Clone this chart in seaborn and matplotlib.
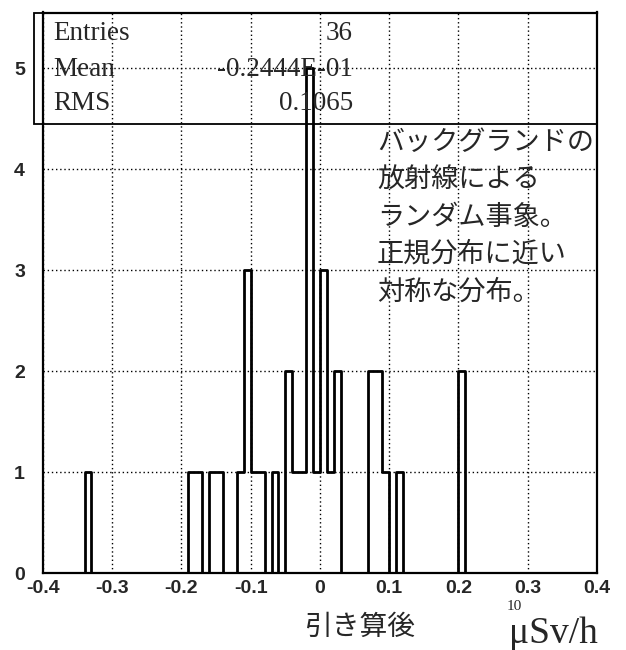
import numpy as np
import pandas as pd
import matplotlib
matplotlib.use("Agg")
import matplotlib.pyplot as plt
from matplotlib.patches import Rectangle
from matplotlib.ticker import MultipleLocator
import seaborn as sns

# bin centres (uSv/h, after background subtraction) and counts per 0.01 bin
bin_centers = [-0.335, -0.185, -0.175, -0.155, -0.145, -0.115, -0.105, -0.095,
               -0.085, -0.065, -0.045, -0.035, -0.025, -0.015, -0.005, 0.005,
               0.015, 0.025, 0.075, 0.085, 0.095, 0.115, 0.205]
counts = [1, 1, 1, 1, 1, 1, 3, 1,
          1, 1, 2, 1, 1, 5, 1, 3,
          1, 2, 2, 2, 1, 1, 2]

x_ticks = [-0.4, -0.3, -0.2, -0.1, 0.0, 0.1, 0.2, 0.3, 0.4]
x_tick_labels = ["-0.4", "-0.3", "-0.2", "-0.1", "0", "0.1", "0.2", "0.3", "0.4"]
y_ticks = [0, 1, 2, 3, 4, 5]

stat_names = ["Entries", "Mean", "RMS"]
stat_values = ["36", "-0.2444E-01", "0.1065"]

note_lines = ["バックグランドの", "放射線による", "ランダム事象。", "正規分布に近い", "対称な分布。"]
xlabel_jp = "引き算後"
xlabel_unit = "μSv/h"

df = pd.DataFrame({"value": bin_centers, "n": counts})

sns.set_style("white")
plt.rcParams['font.family'] = ['Liberation Sans', 'DejaVu Sans']
jp_font = ['Noto Sans CJK JP', 'DejaVu Sans']
serif_font = ['Liberation Serif', 'DejaVu Serif']

W, H = 626, 650
fig = plt.figure(figsize=(W / 100, H / 100), dpi=100)
ax = fig.add_axes([43 / W, 1 - 573 / H, (597 - 43) / W, (573 - 12.5) / H])

sns.histplot(data=df, x="value", weights="n", binwidth=0.01, binrange=(-0.4, 0.4),
             element="step", fill=False, color="black", linewidth=2, ax=ax)

ax.set_xlim(-0.4, 0.4)
ax.set_ylim(0, 5.55)
ax.set_xticks(x_ticks)
ax.set_xticklabels(x_tick_labels)
ax.set_yticks(y_ticks)
ax.xaxis.set_minor_locator(MultipleLocator(0.02))
ax.yaxis.set_minor_locator(MultipleLocator(0.2))
ax.tick_params(axis="both", which="both", direction="in", color="black")
ax.tick_params(axis="both", which="major", length=9, width=1)
ax.tick_params(axis="both", which="minor", length=5, width=1)
ax.tick_params(axis="x", which="major", pad=5, labelsize=14)
ax.tick_params(axis="y", which="major", pad=13, labelsize=14)
for lab in ax.get_xticklabels() + ax.get_yticklabels():
    lab.set_fontweight("bold")

ax.grid(True, which="major", color="black", linestyle=(0, (1, 2)), linewidth=1)
ax.set_axisbelow(False)
for s in ax.spines.values():
    s.set_linewidth(1.6)
    s.set_color("black")
ax.set_xlabel("")
ax.set_ylabel("")

# stats box (ROOT style)
fig.patches.append(Rectangle((34 / W, 1 - 124 / H), (597 - 34) / W, (124 - 12.5) / H,
                             transform=fig.transFigure, fill=False,
                             edgecolor="black", linewidth=1.3))
for i, (name, val) in enumerate(zip(stat_names, stat_values)):
    yy = 1 - (34 + i * 35) / H
    fig.text(53 / W, yy, name, family=serif_font, fontsize=19.5, va="center", ha="left")
    fig.text(353 / W, yy, val, family=serif_font, fontsize=19.5, va="center", ha="right")

# annotation
for i, line in enumerate(note_lines):
    fig.text(377 / W, 1 - (142 + i * 37.5) / H, line, family=jp_font,
             fontsize=19.5, va="center", ha="left")

# axis titles
fig.text(360 / W, 1 - 627 / H, xlabel_jp, family=jp_font, fontsize=20,
         va="center", ha="center")
fig.text(598 / W, 1 - 643 / H, xlabel_unit, family=serif_font, fontsize=27,
         va="baseline", ha="right")
fig.text(514 / W, 1 - 606 / H, "10", family=serif_font, fontsize=11,
         va="center", ha="center")

fig.savefig("out.png", dpi=100)
